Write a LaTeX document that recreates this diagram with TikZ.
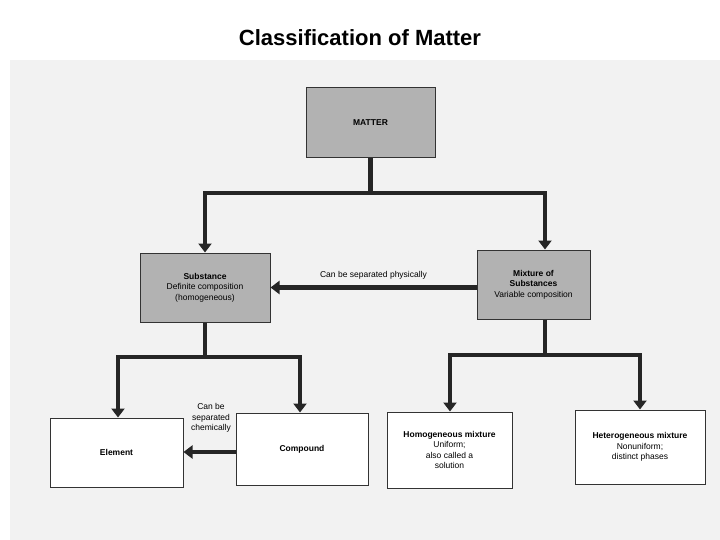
\documentclass[tikz,border=0pt]{standalone}
\usepackage{fontspec}
\setmainfont{Liberation Sans}
\usetikzlibrary{arrows.meta}
\begin{document}
\begin{tikzpicture}[x=1pt,y=-1pt,
  box/.style={draw=black!80,line width=1pt,align=center,font=\fontsize{8.5}{10.5}\selectfont,inner sep=2pt},
  gbox/.style={box,fill=black!30},
  wbox/.style={box,fill=white},
  conn/.style={line width=4.5pt,draw=black!85},
  arr/.style={conn,-{Triangle[length=9pt,width=13pt]}},
  lbl/.style={font=\fontsize{8.5}{10.5}\selectfont,align=center}]
\useasboundingbox (0,0) rectangle (720,540);
\fill[black!5] (10,60) rectangle (720,540);
\node[font=\bfseries\fontsize{22}{25}\selectfont] (title) at (360,38) {Classification of Matter};
\node[gbox,minimum width=129pt,minimum height=70pt] (matter) at (370.5,123) {\textbf{MATTER}};
\node[gbox,minimum width=130pt,minimum height=69pt] (subst) at (205,287.5) {\textbf{Substance}\\Definite composition\\(homogeneous)};
\node[gbox,minimum width=113pt,minimum height=69pt] (mix) at (533.5,284.5) {\textbf{Mixture of}\\\textbf{Substances}\\Variable composition};
\node[wbox,minimum width=133pt,minimum height=69pt] (elem) at (116.5,452.5) {\textbf{Element}};
\node[wbox,minimum width=132pt,minimum height=72pt] (comp) at (302,449) {\textbf{Compound}};
\node[wbox,minimum width=125pt,minimum height=76pt] (homo) at (449.5,450) {\textbf{Homogeneous mixture}\\Uniform;\\also called a\\solution};
\node[wbox,minimum width=130pt,minimum height=74pt] (hetero) at (640,447) {\textbf{Heterogeneous mixture}\\Nonuniform;\\distinct phases};
\coordinate (j1) at (370.5,193);
\coordinate (j2) at (205,357);
\coordinate (j3) at (545,355);
\coordinate (c1) at (0,452);
\draw[conn] (matter.south) -- (j1);
\draw[arr] (j1) -| (subst.north);
\draw[arr] (j1) -| ([xshift=11.5pt]mix.north);
\draw[conn] (subst.south) -- (j2);
\draw[arr] (j2) -| ([xshift=1.5pt]elem.north);
\draw[arr] (j2) -| ([xshift=-2pt]comp.north);
\draw[conn] ([xshift=11.5pt]mix.south) -- (j3);
\draw[arr] (j3) -| ([xshift=0.5pt]homo.north);
\draw[arr] (j3) -| (hetero.north);
\draw[arr] (mix.west |- subst.east) -- node[lbl,above=3pt] (l1) {Can be separated physically} (subst.east);
\draw[arr] (comp.west |- c1) -- (elem.east |- c1);
\node[lbl] (l2) at (211,418) {Can be\\separated\\chemically};
\end{tikzpicture}
\end{document}
